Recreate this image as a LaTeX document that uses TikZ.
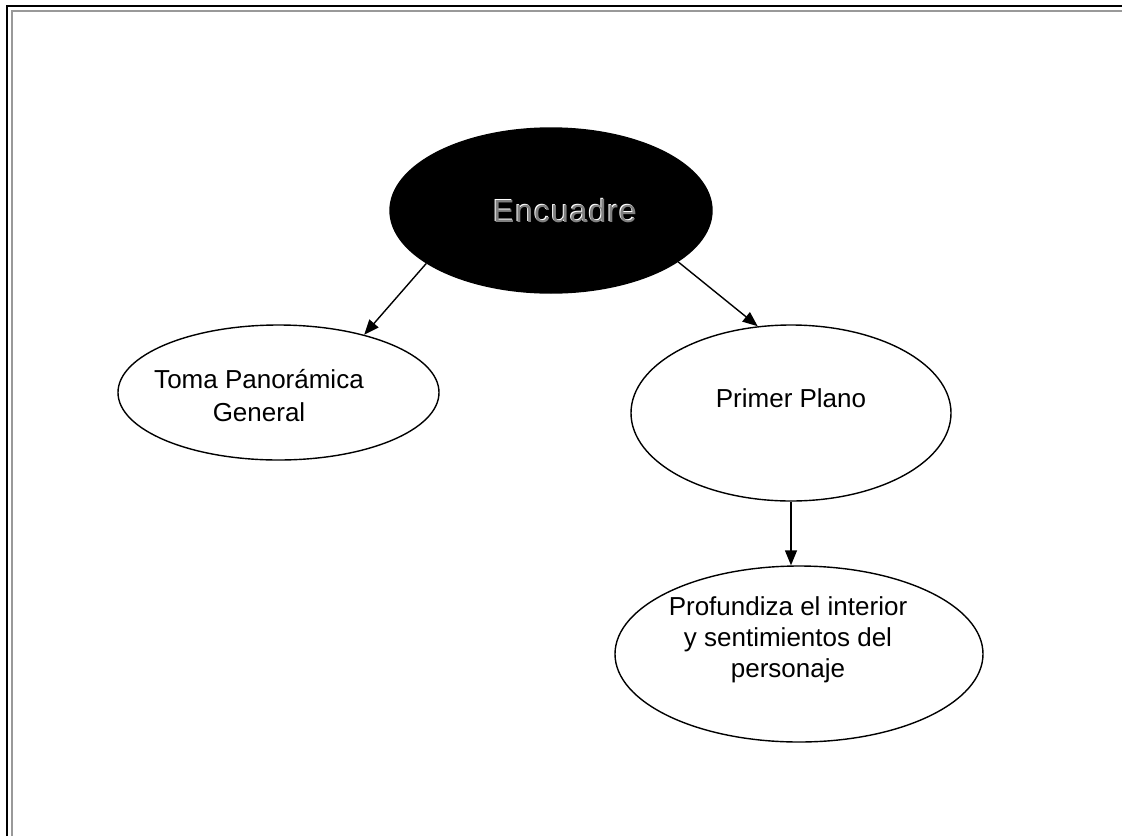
\documentclass[tikz,border=0pt]{standalone}
\usepackage{fontspec}
\setmainfont{Liberation Sans}
\newfontfamily\titlefont[LetterSpace=3]{Liberation Sans}
\usetikzlibrary{shapes.geometric,arrows.meta}

\tikzset{
  bubble/.style={draw=black, line width=1.4pt, ellipse, inner sep=0pt, fill=white},
  label/.style={align=center, font=\fontsize{26}{31}\selectfont, inner sep=0pt, anchor=base},
  link/.style={line width=1.4pt, -{Triangle[length=15pt,width=12pt]}},
  title/.style={font=\titlefont\fontsize{32}{38}\selectfont, inner sep=0pt, anchor=base}
}

\begin{document}
\begin{tikzpicture}[x=1pt,y=-1pt]
  \useasboundingbox (0,0) rectangle (1122,836);
  \fill[white] (0,0) rectangle (1122,836);

  % page border: black outer rule and grey inner rule
  \draw[line width=2pt, black] (6.5,836) -- (6.5,5.7) -- (1122,5.7);
  \draw[line width=1.8pt, black!40] (12.2,836) -- (12.2,11.2) -- (1122,11.2);

  % shapes
  \node[bubble, fill=black, minimum width=322pt, minimum height=165pt] (enc) at (551,210.5) {};
  \node[bubble, minimum width=321pt, minimum height=135pt] (toma) at (278.5,392.5) {};
  \node[bubble, minimum width=320pt, minimum height=176pt] (primer) at (791,413) {};
  \node[bubble, minimum width=368pt, minimum height=176pt] (prof) at (799,654) {};

  % embossed title: light edge up-left, grey face on top
  \node[title, text=white] (enct) at (564,221) {Encuadre};
  \node[title, text=black!50] (encs) at (565,222) {Encuadre};

  % labels (anchor base = last line)
  \node[label, font=\fontsize{26}{33}\selectfont] (tomat) at (259,421) {Toma Panorámica\\General};
  \node[label] (primert) at (791,407) {Primer Plano};
  \node[label] (proft) at (788,677) {Profundiza el interior\\y sentimientos del\\personaje};

  % connectors
  \draw[link] (enc.203.3) -- (toma.34.5);
  \draw[link] (enc.338.3) -- (primer.111.6);
  \draw[link] (primer.south) -- (primer.south |- prof.north);
\end{tikzpicture}
\end{document}
